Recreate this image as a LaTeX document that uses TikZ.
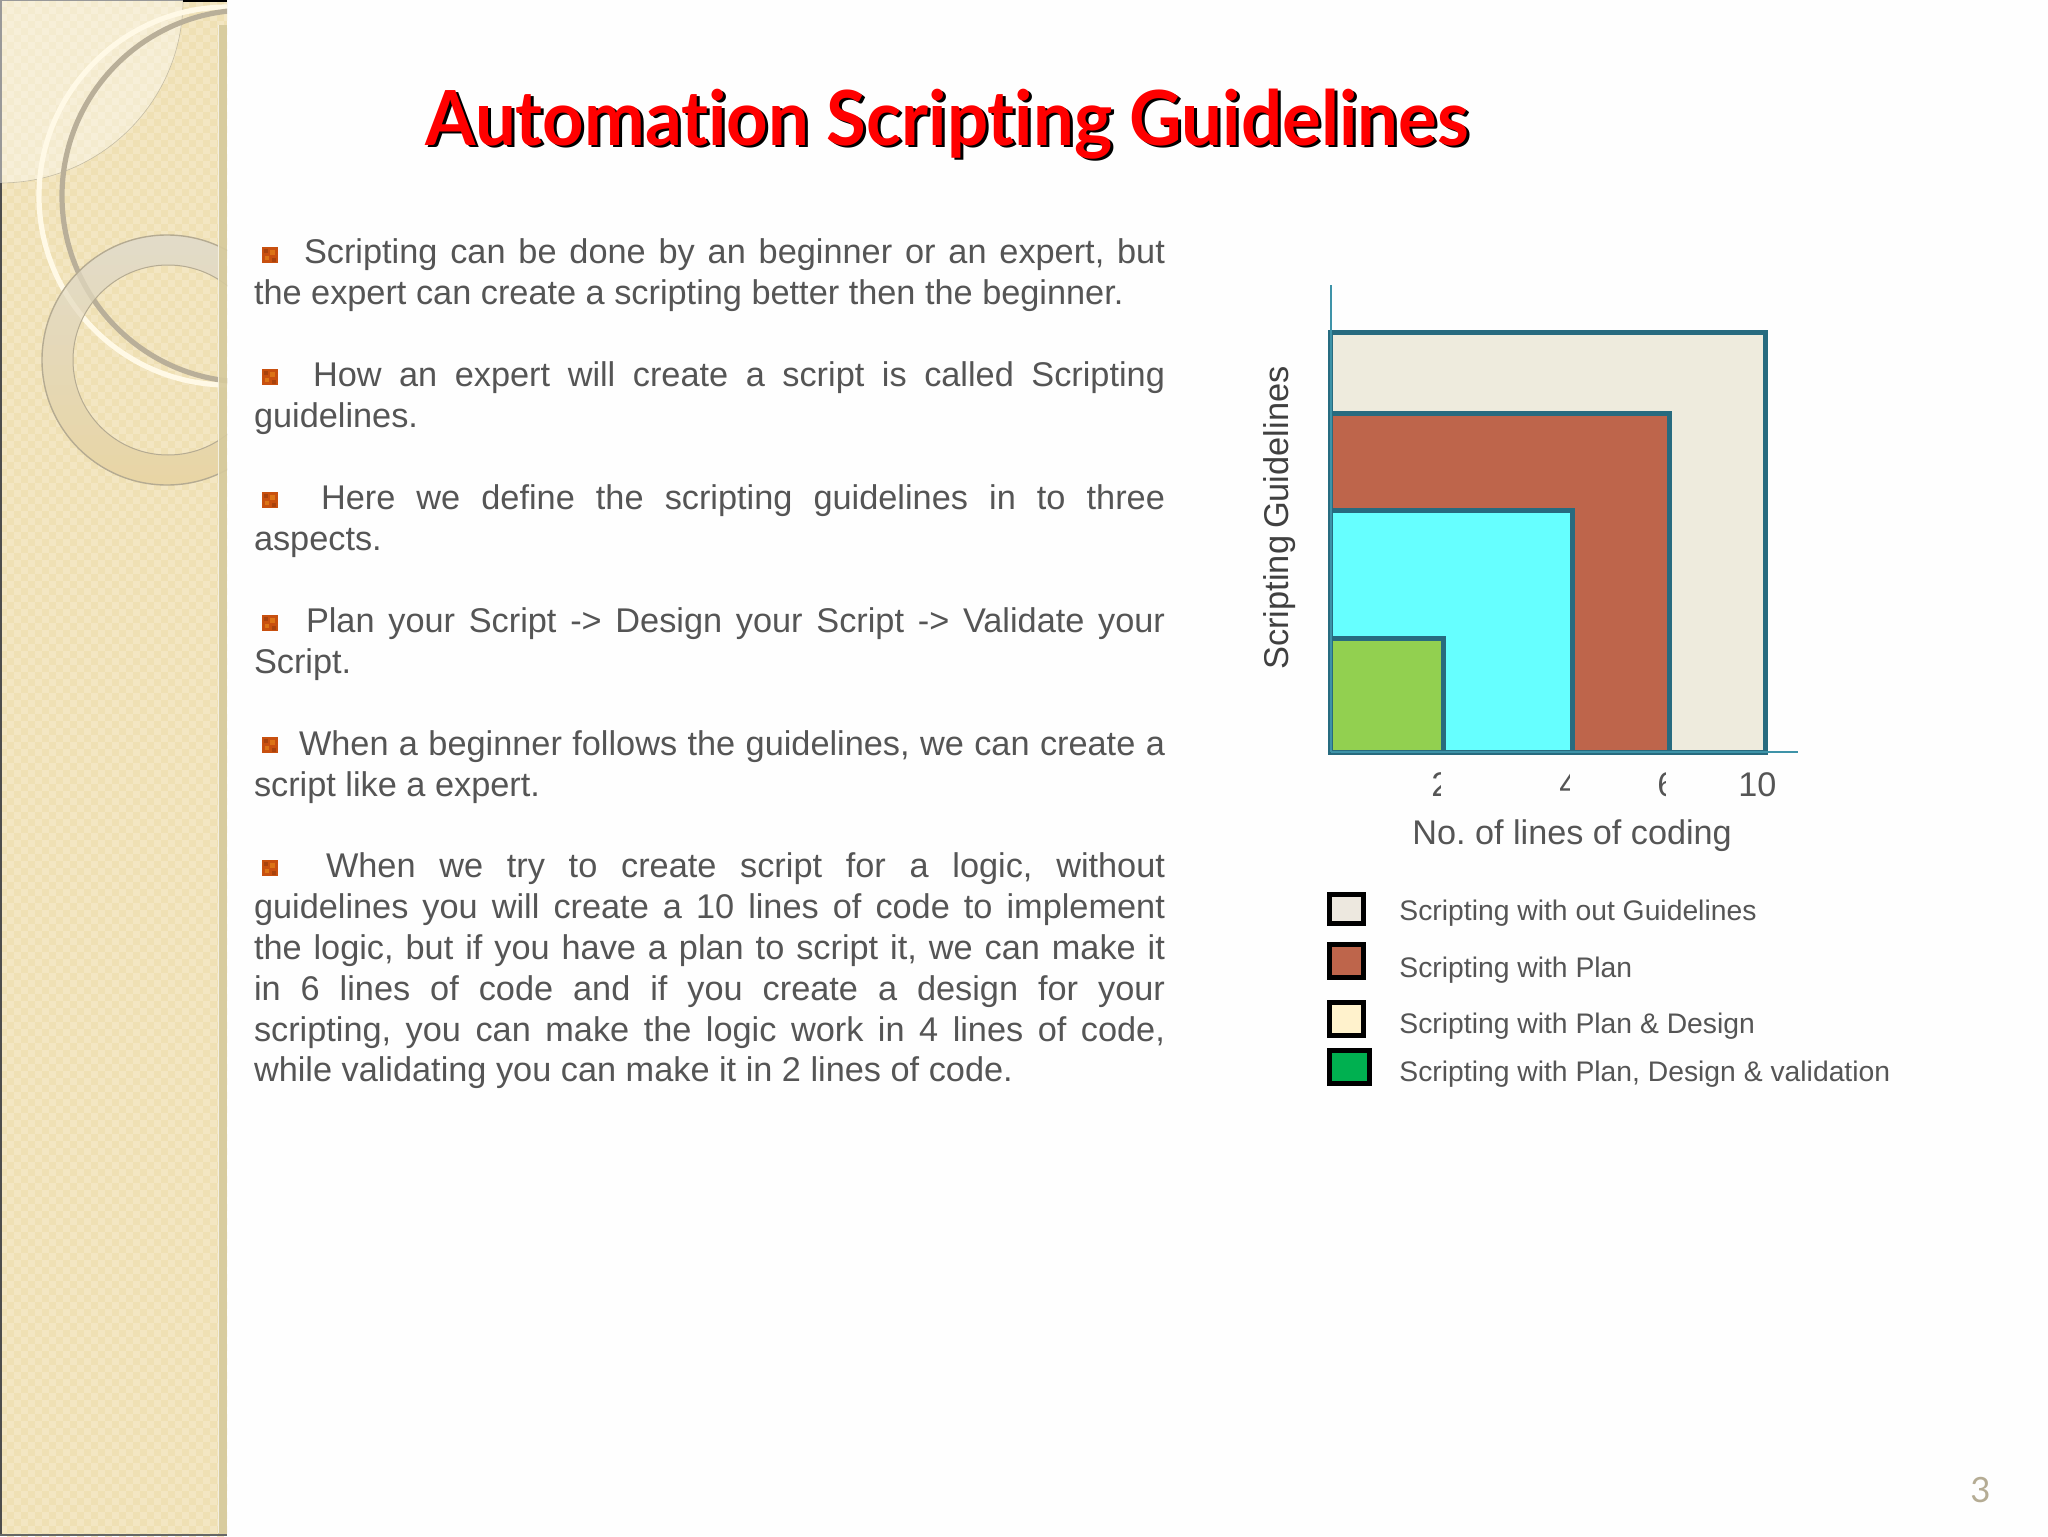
\documentclass[tikz,border=0pt]{standalone}
\usepackage{fontspec}
\setmainfont{Liberation Sans}
\newfontfamily\titlefont[Ligatures=NoCommon]{Lato}
\usetikzlibrary{calc}
\AtBeginDocument{\frenchspacing}
\definecolor{pagebg}{HTML}{FEFEFE}
\definecolor{sandbase}{HTML}{EFE0B4}
\definecolor{sandlight}{HTML}{F3E6C2}
\definecolor{bodygrey}{HTML}{555555}
\definecolor{darkgrey}{HTML}{404040}
\definecolor{boxteal}{HTML}{276B7F}
\definecolor{axisteal}{HTML}{3E93A8}
\definecolor{fillcream}{HTML}{EEEBDD}
\definecolor{fillbrown}{HTML}{BE654B}
\definecolor{fillcyan}{HTML}{66FFFF}
\definecolor{fillgreen}{HTML}{92D050}
\definecolor{legcream}{HTML}{EDE8DF}
\definecolor{legyellow}{HTML}{FFF2CC}
\definecolor{leggreen}{HTML}{00B050}
\definecolor{bulletbase}{HTML}{C8500F}
\definecolor{bulletlight}{HTML}{DC7416}
\definecolor{bulletdark}{HTML}{A8420C}
\definecolor{circleline}{HTML}{C4BCA4}
\definecolor{ringwhite}{HTML}{FFF9E6}
\definecolor{ringgrey}{HTML}{B9AF99}
\definecolor{annuluslight}{HTML}{E2DBC8}
\definecolor{annulusdark}{HTML}{E8D5A4}
\definecolor{annulusedge}{HTML}{B5AB92}
\definecolor{stripcol}{HTML}{D6CA9C}
\definecolor{pagenum}{HTML}{B5AC94}
\definecolor{titlered}{HTML}{FF0000}
\tikzset{
  x=0.5pt,y=-0.5pt,
  bodyline/.style={anchor=base west,inner sep=0pt,outer sep=0pt,text=bodygrey,font=\fontsize{17.15pt}{20pt}\selectfont},
  legendtext/.style={anchor=base west,inner sep=0pt,text=bodygrey,font=\fontsize{14.15pt}{16pt}\selectfont},
  ticktext/.style={anchor=base west,inner sep=0pt,text=bodygrey,font=\fontsize{17.1pt}{18pt}\selectfont},
  chartbox/.style={draw=boxteal,line width=2.5pt},
  legendbox/.style={draw=black,line width=2.5pt},
  chartaxis/.style={draw=axisteal,line width=1pt},
  titletext/.style={anchor=base west,inner sep=0pt,font=\titlefont\bfseries\fontsize{38pt}{44pt}\selectfont},
  whitering/.style={ringwhite,line width=2.6pt},
  greyring/.style={ringgrey,line width=2.6pt},
}
\newcommand{\fl}[2]{\makebox[#1pt][s]{#2}}
\newcommand{\bulletmark}[2]{%
  \fill[bulletbase] (#1,#2) rectangle ++(16,16);
  \fill[bulletlight] (#1+8,#2+3) rectangle ++(5,5);
  \fill[bulletlight] (#1+3,#2+9) rectangle ++(4,4);
  \fill[bulletdark] (#1+2,#2+2) rectangle ++(4,4);
  \fill[bulletdark] (#1+10,#2+11) rectangle ++(4,4);
}
\begin{document}
\begin{tikzpicture}
\useasboundingbox (0,0) rectangle (2048,1536);
\fill[pagebg] (0,0) rectangle (2048,1536);
% sidebar
\begin{scope}
\clip (0,0) rectangle (227,1536);
\fill[sandbase] (0,0) rectangle (227,1536);
\foreach \i in {0,...,32}{
  \foreach \j in {0,...,219}{
    \pgfmathtruncatemacro{\cellodd}{mod(\i+\j,2)}
    \ifnum\cellodd=0
      \fill[sandlight] (\i*7,\j*7) rectangle ++(7,7);
    \fi
  }
}
\fill[white,opacity=0.36] (0,0) circle[radius=183];
\draw[circleline,line width=0.3pt] (0,0) circle[radius=183];
\draw[whitering] (228,196) circle[radius=189];
\draw[greyring] (248,196) circle[radius=186];
\begin{scope}[even odd rule]
\clip (167,360) circle[radius=125] (168,360) circle[radius=95];
\foreach \k in {0,...,25}{
  \pgfmathsetmacro{\mixp}{100-\k*4}
  \fill[annuluslight!\mixp!annulusdark] (40,235+\k*10) rectangle (227,246+\k*10);
}
\draw[whitering,opacity=0.3] (228,196) circle[radius=189];
\draw[greyring,opacity=0.3] (248,196) circle[radius=186];
\end{scope}
\draw[annulusedge,line width=0.7pt] (167,360) circle[radius=125];
\draw[annulusedge,line width=0.5pt] (168,360) circle[radius=95];
\fill[stripcol,opacity=0.9] (218,25) rectangle (227,1536);
\draw[white,line width=0.4pt,opacity=0.7] (218,25) -- (218,1533);
\fill[black!70] (0,183) rectangle (1.5,1536);
\fill[black!40] (0,0) rectangle (183,1.5);
\fill[black!40] (0,0) rectangle (1.5,183);
\fill[black] (183,0) rectangle (227,2);
\fill[black!60] (0,1534) rectangle (227,1536);
\end{scope}
% title
\node[titletext,text=black] (titleshadow) at (428,148) {\scalebox{0.954}[1]{Automation Scripting Guidelines}};
\node[titletext,text=titlered] (title) at (425,145) {\scalebox{0.954}[1]{Automation Scripting Guidelines}};
% bullets
\bulletmark{262}{247}
\bulletmark{262}{369}
\bulletmark{262}{492}
\bulletmark{262}{615}
\bulletmark{262}{737}
\bulletmark{262}{860}
% body
\node[bodyline] (p1a) at (304,263.5) {\fl{430.5}{Scripting can be done by an beginner or an expert, but}};
\node[bodyline] (p1b) at (254,304.5) {the expert can create a scripting better then the beginner.};
\node[bodyline] (p2a) at (313,386.5) {\fl{426}{How an expert will create a script is called Scripting}};
\node[bodyline] (p2b) at (254,427.5) {guidelines.};
\node[bodyline] (p3a) at (321,509.5) {\fl{422}{Here we define the scripting guidelines in to three}};
\node[bodyline] (p3b) at (254,550.5) {aspects.};
\node[bodyline] (p4a) at (306,632) {\fl{429.5}{Plan your Script -> Design your Script -> Validate your}};
\node[bodyline] (p4b) at (254,673) {Script.};
\node[bodyline] (p5a) at (299,755) {\fl{433}{When a beginner follows the guidelines, we can create a}};
\node[bodyline] (p5b) at (254,796) {script like a expert.};
\node[bodyline] (p6a) at (326,877.5) {\fl{419.5}{When we try to create script for a logic, without}};
\node[bodyline] (p6b) at (254,918.5) {\fl{455.5}{guidelines you will create a 10 lines of code to implement}};
\node[bodyline] (p6c) at (254,959) {\fl{455.5}{the logic, but if you have a plan to script it, we can make it}};
\node[bodyline] (p6d) at (254,1000.5) {\fl{455.5}{in 6 lines of code and if you create a design for your}};
\node[bodyline] (p6e) at (254,1041) {\fl{455.5}{scripting, you can make the logic work in 4 lines of code,}};
\node[bodyline] (p6f) at (254,1081.5) {while validating you can make it in 2 lines of code.};
% chart
\fill[chartbox,fill=fillcream] (1330.5,332.5) rectangle (1765.5,752);
\fill[chartbox,fill=fillbrown] (1330.5,413.5) rectangle (1669,752);
\fill[chartbox,fill=fillcyan] (1330.5,510) rectangle (1572,752);
\fill[chartbox,fill=fillgreen] (1330.5,638.5) rectangle (1443,752);
\coordinate (origin) at (1330.5,752);
\coordinate (ytop) at (1330.5,284.5);
\coordinate (xend) at (1798,752);
\draw[chartaxis] (origin) -- (ytop);
\draw[chartaxis] (origin) -- (xend);
\node[rotate=90,anchor=base west,inner sep=0pt,text=darkgrey,font=\fontsize{17.2pt}{18pt}\selectfont] (ylabel) at (1288,670) {Scripting\hspace{0.2em}Guidelines};
\begin{scope}
\clip (1425,770) rectangle (1440,810);
\node[ticktext] (tick2) at (1431,796) {2};
\end{scope}
\begin{scope}
\clip (1550,770) rectangle (1569,810);
\node[ticktext] (tick4) at (1559,796) {4};
\end{scope}
\begin{scope}
\clip (1650,770) rectangle (1665,810);
\node[ticktext] (tick6) at (1657,796) {6};
\end{scope}
\node[ticktext] (tick10) at (1738,796) {10};
\node[ticktext] (xlabel) at (1412,844) {No. of lines of coding};
% legend
\fill[legendbox,fill=legcream] (1329.5,894.5) rectangle (1363.5,923.5);
\fill[legendbox,fill=fillbrown] (1329.5,944.5) rectangle (1363.5,977.5);
\fill[legendbox,fill=legyellow] (1329.5,1002.5) rectangle (1363.5,1035.5);
\fill[legendbox,fill=leggreen] (1329.5,1050.5) rectangle (1369.5,1083.5);
\node[legendtext] (leg1) at (1399,920) {Scripting with out Guidelines};
\node[legendtext] (leg2) at (1399,977) {Scripting with Plan};
\node[legendtext] (leg3) at (1399,1033) {Scripting with Plan \& Design};
\node[legendtext] (leg4) at (1399,1081) {Scripting with Plan, Design \& validation};
% page number
\node[anchor=base west,inner sep=0pt,text=pagenum,font=\titlefont\fontsize{17.4pt}{20pt}\selectfont] (pageno) at (1970,1502) {3};
\end{tikzpicture}
\end{document}
